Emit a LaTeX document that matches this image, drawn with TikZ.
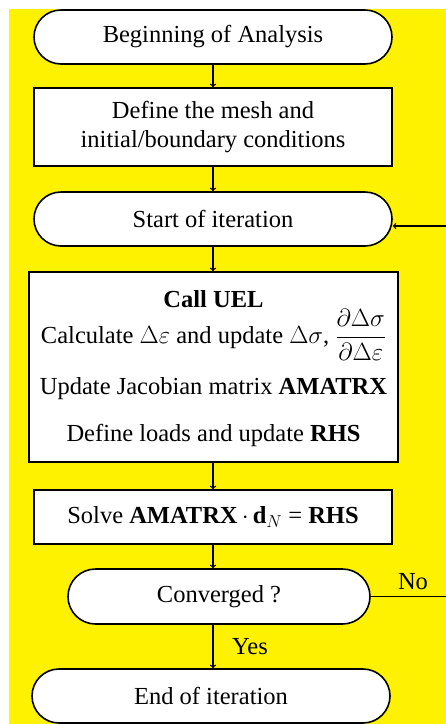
\documentclass[tikz,border=0pt]{standalone}
\usepackage{fontspec}
\usepackage{amsmath}
\setmainfont{Liberation Serif}
\usetikzlibrary{shapes.misc}
\begin{document}
\begin{tikzpicture}[x=1pt, y=-1pt,
  every node/.style={font=\fontsize{24.5}{29}\selectfont},
  term/.style={draw, line width=1.6pt, fill=white, rounded rectangle, minimum width=358pt, minimum height=54pt, inner sep=0pt},
  proc/.style={draw, line width=1.6pt, fill=white, rectangle, minimum width=358pt, inner sep=0pt, align=center},
  flow/.style={->, line width=1.3pt}]
\useasboundingbox (0,0) rectangle (446,724);
\fill[yellow] (9,9) rectangle (470,740);
\node[term] (begin) at (213,37) {Beginning of Analysis};
\node[proc, minimum height=78pt] (mesh) at (213,127) {Define the mesh and\\initial/boundary conditions};
\node[term] (start) at (213,219) {Start of iteration};
\node[proc, minimum width=369pt, minimum height=190pt] (uel) at (213.5,367) {\textbf{Call UEL}\\[1pt]
  Calculate $\Delta\varepsilon$ and update $\Delta\sigma$, $\dfrac{\partial\Delta\sigma}{\partial\Delta\varepsilon}$\\[16pt]
  Update Jacobian matrix \textbf{AMATRX}\\[18pt]
  Define loads and update \textbf{RHS}\\[-27pt]\mbox{}};
\node[proc, minimum height=54pt] (solve) at (213,517) {Solve\ \textbf{AMATRX}\,$\cdot$\,\textbf{d}$_N$ = \textbf{RHS}};
\node[term, minimum width=302pt, minimum height=55pt] (conv) at (219,596.5) {Converged ?};
\node[term] (end) at (211,696) {End of iteration};
\node (no) at (413,582) {No};
\node (yes) at (250,647) {Yes};
\coordinate (back) at (456,226);
\draw[flow] (begin.south) -- (begin.south |- mesh.north);
\draw[flow] (mesh.south) -- (mesh.south |- start.north);
\draw[flow] (start.south) -- (start.south |- uel.north);
\draw[flow] (start.south |- uel.south) -- (start.south |- solve.north);
\draw[flow] (solve.south) -- (solve.south |- conv.north);
\draw[flow] (solve.south |- conv.south) -- (solve.south |- end.north);
\draw[flow] (conv.east) -- (conv.east -| back) -- (back) -- (start.east |- back);
\end{tikzpicture}
\end{document}
